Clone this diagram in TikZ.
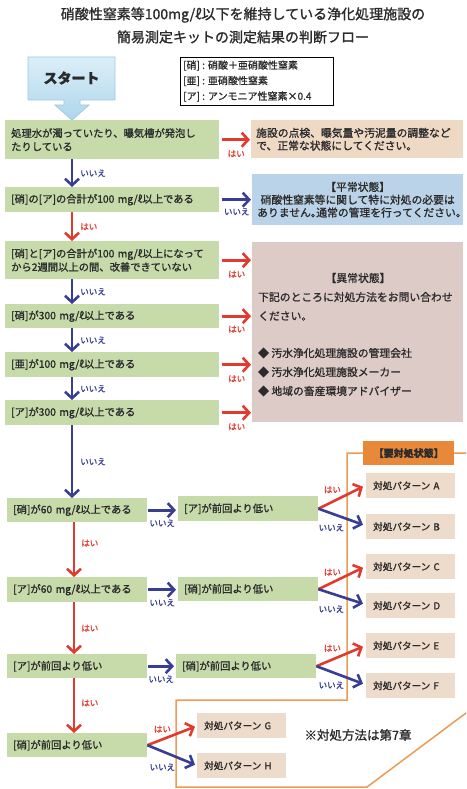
\documentclass[tikz,border=0pt]{standalone}
\usepackage{fontspec}
\setmainfont{Noto Sans CJK JP}[FakeBold=1.2]
\usetikzlibrary{arrows.meta,calc}
\definecolor{txt}{HTML}{2B2B2B}
\definecolor{gboxc}{HTML}{C6DAAA}
\definecolor{tanc}{HTML}{EED9C5}
\definecolor{bluec}{HTML}{BBD3E8}
\definecolor{mauvec}{HTML}{DDCBC8}
\definecolor{pboxc}{HTML}{EDDCCB}
\definecolor{orangec}{HTML}{E8893A}
\definecolor{olinec}{HTML}{EB9C52}
\definecolor{lred}{HTML}{E23B2E}
\definecolor{lblue}{HTML}{383E93}
\definecolor{startA}{HTML}{DCEFF8}
\definecolor{startB}{HTML}{AED6EC}
\definecolor{startE}{HTML}{9CCBE3}
\newcommand{\hw}[1]{\makebox[0.5em][l]{#1}}
\tikzset{
  base/.style={inner ysep=0pt, anchor=north west, align=left, text=txt},
  gbox/.style={base, fill=gboxc, inner xsep=6pt, font=\fontsize{10.3}{13.5}\selectfont},
  upbox/.style={gbox, text width=202pt},
  lowbox/.style={gbox, text width=128pt},
  pbox/.style={base, fill=pboxc, inner xsep=7pt, text width=75pt, minimum height=25pt, font=\fontsize{9.6}{12}\selectfont},
  rbox/.style={base, inner xsep=5pt, font=\fontsize{10.8}{12.8}\selectfont},
  rtext/.style={inner sep=0pt, text=txt, font=\fontsize{10.8}{12.8}\selectfont},
  title/.style={inner sep=0pt, text=txt, font=\fontsize{14}{16}\selectfont},
  rarr/.style={draw=lred, line width=2.6pt, -{Straight Barb[length=6.5pt,width=14pt]}},
  barr/.style={draw=lblue, line width=2.6pt, -{Straight Barb[length=6.5pt,width=14pt]}},
  lab/.style={font=\fontsize{8.5}{9}\selectfont, inner sep=1pt},
  hai/.style={lab, text=lred},
  iie/.style={lab, text=lblue},
  oline/.style={draw=olinec, line width=1.5pt},
}
\begin{document}
\begin{tikzpicture}[x=1pt,y=-1pt]
\useasboundingbox (0,0) rectangle (466,789);
\fill[white] (0,0) rectangle (466,789);

% title
\node[title] (t1) at (243,15) {硝酸性窒素等100mg/ℓ以下を維持している浄化処理施設の};
\node[title] (t2) at (243,37) {簡易測定キットの測定結果の判断フロー};

% start arrow
\path[draw=startE, line width=0.8pt, top color=startA, bottom color=startB]
  (28,57) -- (115,57) -- (115,100) -- (80,100) -- (80,105) -- (89,105) -- (72,120)
  -- (55,105) -- (64,105) -- (64,100) -- (28,100) -- cycle;
\node[font=\bfseries\fontsize{14}{14}\selectfont, text=txt] (st) at (71.5,78) {スタート};

% legend
\node[draw=black, line width=1.4pt, anchor=north west, minimum width=153pt, minimum height=48pt, inner sep=0pt] (lg) at (180,57) {};
\node[anchor=west, align=left, inner sep=0pt, text=txt, font=\fontsize{10}{15.5}\selectfont] (lgt) at (183,81)
  {[硝] : 硝酸＋亜硝酸性窒素\\{}[亜] : 亜硝酸性窒素\\{}[ア] : アンモニア性窒素×0.4};

% column coordinates
\coordinate (cx) at (72,0);
\coordinate (cy) at (74,0);

% upper green boxes
\node[upbox, minimum height=39pt] (b1) at (5,120) {処理水が濁っていたり、曝気槽が発泡し\\たりしている};
\node[upbox, minimum height=25pt] (b2) at (5,187) {[硝]の[ア]の合計が100 mg/ℓ以上である};
\node[upbox, minimum height=38pt] (b3) at (5,241) {[硝]と[ア]の合計が100 mg/ℓ以上になって\\から2週間以上の間、改善できていない};
\node[upbox, minimum height=24pt] (b4) at (5,304) {[硝]が300 mg/ℓ以上である};
\node[upbox, minimum height=25pt] (b5) at (5,352) {[亜]が100 mg/ℓ以上である};
\node[upbox, minimum height=25pt] (b6) at (5,400) {[ア]が300 mg/ℓ以上である};

% right boxes
\node[rbox, fill=tanc, text width=202pt, minimum height=38pt] (r1) at (251,120)
  {施設の点検、曝気量や汚泥量の調整など\\で、正常な状態にしてください。};
\node[rbox, fill=bluec, text width=201pt, minimum height=51pt, align=center] (r2) at (252,174)
  {【平常状態】\\硝酸性窒素等に関して特に対処の必要は\\ありません\hw{。}通常の管理を行ってください\hw{。}};
\node[base, fill=mauvec, minimum width=211pt, minimum height=180pt, inner sep=0pt] (r3) at (252,242) {};
\node[rtext] (r3t) at (358,278) {【異常状態】};
\node[rtext, anchor=west] (r3a) at (258,297) {下記のところに対処方法をお問い合わせ};
\node[rtext, anchor=west] (r3b) at (258,316) {ください。};
\node[rtext, anchor=west] (r3c) at (258,353) {◆ 汚水浄化処理施設の管理会社};
\node[rtext, anchor=west] (r3d) at (258,372) {◆ 汚水浄化処理施設メーカー};
\node[rtext, anchor=west] (r3e) at (258,391) {◆ 地域の畜産環境アドバイザー};

% upper vertical arrows
\draw[barr] (b1.south -| cx) -- (b2.north -| cx) node[iie, midway, right=6pt] {いいえ};
\draw[rarr] (b2.south -| cx) -- (b3.north -| cx) node[hai, midway, right=6pt] {はい};
\draw[barr] (b3.south -| cx) -- (b4.north -| cx) node[iie, midway, right=6pt] {いいえ};
\draw[barr] (b4.south -| cx) -- (b5.north -| cx) node[iie, midway, right=6pt] {いいえ};
\draw[barr] (b5.south -| cx) -- (b6.north -| cx) node[iie, midway, right=6pt] {いいえ};

% upper horizontal arrows
\draw[rarr] ($(b1.east)+(3,0)$) -- ($(b1.east -| r1.west)+(-1,0)$) node[hai, midway, yshift=-14pt] {はい};
\draw[barr] ($(b2.east)+(3,0)$) -- ($(b2.east -| r2.west)+(-1,0)$) node[iie, midway, yshift=-12pt] {いいえ};
\draw[rarr] ($(b3.east)+(3,0)$) -- ($(b3.east -| r3.west)+(-1,0)$) node[hai, midway, yshift=-14pt] {はい};
\draw[rarr] ($(b4.east)+(3,0)$) -- ($(b4.east -| r3.west)+(-1,0)$) node[hai, midway, yshift=-13pt] {はい};
\draw[rarr] ($(b5.east)+(3,0)$) -- ($(b5.east -| r3.west)+(-1,0)$) node[hai, midway, yshift=-14pt] {はい};
\draw[rarr] ($(b6.east)+(3,0)$) -- ($(b6.east -| r3.west)+(-1,0)$) node[hai, midway, yshift=-14pt] {はい};

% orange frame
\draw[oline] (466,453) -- (347,453) -- (347,700) -- (176,700) -- (176,787) -- (367,787) -- (466,713);
\node[anchor=north west, fill=orangec, minimum width=91pt, minimum height=24pt, inner sep=0pt] (ob) at (363,441) {};
\node[inner sep=0pt, text=txt, font=\bfseries\fontsize{10}{12}\selectfont] (obt) at (ob.center) {【要対処状態】};

% lower green boxes
\node[lowbox, minimum height=24pt] (b7) at (7,498) {[硝]が60 mg/ℓ以上である};
\node[lowbox, minimum height=25pt] (c7) at (178,496) {[ア]が前回より低い};
\node[lowbox, minimum height=25pt] (b8) at (7,577) {[ア]が60 mg/ℓ以上である};
\node[lowbox, minimum height=24pt] (c8) at (178,577) {[硝]が前回より低い};
\node[lowbox, minimum height=24pt] (b9) at (7,654) {[ア]が前回より低い};
\node[lowbox, minimum height=24pt] (c9) at (176,654) {[硝]が前回より低い};
\node[lowbox, minimum height=24pt] (b10) at (7,733) {[硝]が前回より低い};

% pattern boxes
\node[pbox] (pA) at (366,473) {対処パターン A};
\node[pbox] (pB) at (366,514) {対処パターン B};
\node[pbox] (pC) at (366,554) {対処パターン C};
\node[pbox] (pD) at (366,593) {対処パターン D};
\node[pbox] (pE) at (366,633) {対処パターン E};
\node[pbox] (pF) at (366,673) {対処パターン F};
\node[pbox] (pG) at (197,713) {対処パターン G};
\node[pbox] (pH) at (197,753) {対処パターン H};

\node[inner sep=0pt, text=txt, font=\fontsize{12.5}{14}\selectfont] (note) at (358,735) {※対処方法は第7章};

% lower vertical arrows
\draw[barr] (b6.south -| cx) -- (b7.north -| cx) node[iie, midway, right=6pt] {いいえ};
\draw[rarr] (b7.south -| cy) -- (b8.north -| cy) node[hai, pos=0.38, right=5pt] {はい};
\draw[rarr] (b8.south -| cy) -- (b9.north -| cy) node[hai, midway, right=5pt] {はい};
\draw[rarr] (b9.south -| cy) -- (b10.north -| cy) node[hai, pos=0.45, right=5pt] {はい};

% lower horizontal arrows
\draw[barr] ($(b7.east)+(1,0)$) -- ($(b7.east -| c7.west)+(-2,0)$) node[iie, midway, yshift=-13pt] {いいえ};
\draw[barr] ($(b8.east)+(1,0)$) -- ($(b8.east -| c8.west)+(-2,0)$) node[iie, midway, yshift=-13pt] {いいえ};
\draw[barr] ($(b9.east)+(1,0)$) -- ($(b9.east -| c9.west)+(-2,0)$) node[iie, midway, yshift=-13pt] {いいえ};

% branches
\draw[rarr] (c7.east) -- ($(pA.west)+(-3,1)$);
\draw[barr] (c7.east) -- ($(pB.west)+(-3,-2)$);
\node[hai] (hA) at ($(c7.east)+(14,-19)$) {はい};
\node[iie] (iB) at ($(c7.east)+(13,19)$) {いいえ};

\draw[rarr] (c8.east) -- ($(pC.west)+(-3,1)$);
\draw[barr] (c8.east) -- ($(pD.west)+(-3,-2)$);
\node[hai] (hC) at ($(c8.east)+(14,-17)$) {はい};
\node[iie] (iD) at ($(c8.east)+(13,20)$) {いいえ};

\draw[rarr] (c9.east) -- ($(pE.west)+(-3,1)$);
\draw[barr] (c9.east) -- ($(pF.west)+(-3,-2)$);
\node[hai] (hE) at ($(c9.east)+(16,-18)$) {はい};
\node[iie] (iF) at ($(c9.east)+(15,19)$) {いいえ};

\draw[rarr] (b10.east) -- ($(pG.west)+(-2,1)$);
\draw[barr] (b10.east) -- ($(pH.west)+(-2,-1)$);
\node[hai] (hG) at ($(b10.east)+(15,-16)$) {はい};
\node[iie] (iH) at ($(b10.east)+(15,22)$) {いいえ};

\end{tikzpicture}
\end{document}
